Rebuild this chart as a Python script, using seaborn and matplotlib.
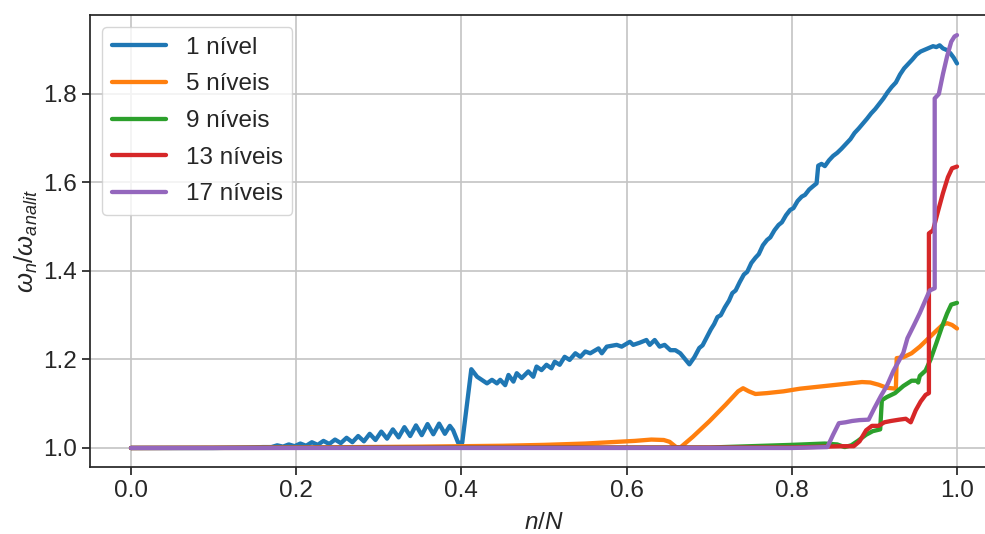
import numpy as np
import pandas as pd
import matplotlib
matplotlib.use("Agg")
import matplotlib.pyplot as plt
import seaborn as sns

# Normalised frequency omega_n / omega_analit against relative mode index n/N

x_1 = [0.000, 0.100, 0.140, 0.160,
       0.170, 0.177, 0.184, 0.191, 0.198, 0.205, 0.212, 0.219, 0.226, 0.233,
       0.240, 0.247, 0.254, 0.261, 0.268, 0.275, 0.282, 0.289, 0.296, 0.303,
       0.310, 0.317, 0.324, 0.331, 0.338, 0.345, 0.352, 0.359, 0.366, 0.373,
       0.380, 0.386, 0.390, 0.396, 0.401,
       0.412, 0.419, 0.431, 0.437, 0.443, 0.447, 0.453, 0.457, 0.463, 0.467,
       0.473, 0.481, 0.487, 0.491, 0.497, 0.503, 0.509, 0.513, 0.519, 0.525,
       0.531, 0.538, 0.544, 0.550, 0.556, 0.566, 0.570, 0.576, 0.588, 0.594,
       0.604, 0.608, 0.616, 0.624, 0.628, 0.634, 0.640, 0.646, 0.653, 0.659,
       0.665, 0.676,
       0.682, 0.688, 0.692, 0.697, 0.702, 0.706, 0.710, 0.714, 0.719, 0.724,
       0.728, 0.732, 0.737, 0.742, 0.746, 0.751, 0.756, 0.760, 0.765, 0.770,
       0.774, 0.779, 0.784, 0.788, 0.793, 0.798, 0.802, 0.807, 0.812, 0.816,
       0.821, 0.826, 0.830, 0.832, 0.836, 0.840, 0.845, 0.850, 0.855, 0.860,
       0.866, 0.871, 0.876, 0.881, 0.886, 0.891, 0.896, 0.901, 0.906, 0.911,
       0.916, 0.921, 0.926, 0.931, 0.936, 0.941, 0.946, 0.951, 0.956, 0.961,
       0.966, 0.971, 0.975, 0.979, 0.983, 0.988, 0.992, 0.996, 1.000]
y_1 = [1.000, 1.000, 1.001, 1.002,
       1.002, 1.006, 1.003, 1.008, 1.004, 1.010, 1.005, 1.013, 1.007, 1.016,
       1.009, 1.019, 1.011, 1.023, 1.013, 1.027, 1.015, 1.032, 1.018, 1.037,
       1.021, 1.042, 1.024, 1.047, 1.027, 1.051, 1.029, 1.054, 1.031, 1.055,
       1.032, 1.050, 1.040, 1.012, 1.012,
       1.178, 1.161, 1.146, 1.154, 1.146, 1.154, 1.142, 1.165, 1.150, 1.169,
       1.158, 1.173, 1.161, 1.184, 1.176, 1.188, 1.180, 1.195, 1.188, 1.206,
       1.199, 1.214, 1.206, 1.218, 1.214, 1.225, 1.214, 1.229, 1.233, 1.229,
       1.240, 1.233, 1.238, 1.244, 1.233, 1.244, 1.229, 1.233, 1.221, 1.221,
       1.214, 1.189,
       1.205, 1.226, 1.232, 1.250, 1.268, 1.280, 1.296, 1.300, 1.318, 1.333,
       1.350, 1.356, 1.375, 1.392, 1.398, 1.418, 1.430, 1.438, 1.458, 1.470,
       1.476, 1.492, 1.504, 1.510, 1.526, 1.538, 1.542, 1.558, 1.568, 1.572,
       1.584, 1.592, 1.598, 1.638, 1.642, 1.637, 1.650, 1.660, 1.667, 1.676,
       1.688, 1.698, 1.712, 1.722, 1.733, 1.744, 1.756, 1.766, 1.778, 1.790,
       1.804, 1.816, 1.826, 1.844, 1.858, 1.868, 1.878, 1.889, 1.896, 1.900,
       1.904, 1.908, 1.906, 1.910, 1.903, 1.899, 1.892, 1.882, 1.869]

x_5 = [0.000, 0.200, 0.350, 0.400, 0.450, 0.500, 0.550, 0.580, 0.610, 0.630,
       0.645, 0.652, 0.660, 0.665, 0.680, 0.700, 0.720, 0.735, 0.741, 0.748,
       0.756, 0.770, 0.790, 0.810, 0.830, 0.850, 0.870, 0.885, 0.895, 0.905,
       0.915, 0.926, 0.927, 0.935, 0.945, 0.955, 0.965, 0.975, 0.983, 0.988,
       0.994, 1.000]
y_5 = [1.000, 1.001, 1.003, 1.004, 1.005, 1.007, 1.010, 1.013, 1.016, 1.019,
       1.018, 1.014, 1.002, 1.001, 1.025, 1.060, 1.098, 1.128, 1.135, 1.128,
       1.122, 1.124, 1.128, 1.134, 1.138, 1.142, 1.146, 1.149, 1.148, 1.143,
       1.136, 1.134, 1.203, 1.205, 1.214, 1.229, 1.247, 1.265, 1.279, 1.282,
       1.278, 1.270]

x_9 = [0.000, 0.700, 0.750, 0.800, 0.840, 0.855, 0.864, 0.872, 0.880, 0.890,
       0.898, 0.907, 0.909, 0.915, 0.925, 0.935, 0.945, 0.951, 0.953, 0.955,
       0.962, 0.968, 0.975, 0.982, 0.988, 0.993, 1.000]
y_9 = [1.000, 1.001, 1.004, 1.007, 1.010, 1.008, 1.002, 1.006, 1.016, 1.030,
       1.038, 1.042, 1.108, 1.115, 1.124, 1.140, 1.152, 1.152, 1.148, 1.163,
       1.175, 1.200, 1.237, 1.275, 1.304, 1.324, 1.328]

x_13 = [0.000, 0.800, 0.840, 0.860, 0.875, 0.882, 0.890, 0.897, 0.905, 0.912,
        0.920, 0.930, 0.938, 0.944, 0.950, 0.956, 0.962, 0.966, 0.966, 0.971,
        0.977, 0.983, 0.989, 0.994, 1.000]
y_13 = [1.000, 1.001, 1.003, 1.004, 1.004, 1.015, 1.040, 1.050, 1.050, 1.058,
        1.061, 1.064, 1.066, 1.058, 1.085, 1.105, 1.120, 1.124, 1.485, 1.492,
        1.535, 1.576, 1.612, 1.632, 1.636]

x_17 = [0.000, 0.800, 0.843, 0.850, 0.857, 0.865, 0.873, 0.882, 0.893, 0.900,
        0.908, 0.915, 0.923, 0.930, 0.935, 0.940, 0.948, 0.955, 0.962, 0.967,
        0.973, 0.973, 0.978, 0.983, 0.988, 0.993, 0.997, 1.000]
y_17 = [1.000, 1.000, 1.002, 1.030, 1.056, 1.058, 1.061, 1.063, 1.064, 1.090,
        1.118, 1.140, 1.174, 1.198, 1.215, 1.248, 1.278, 1.305, 1.335, 1.356,
        1.361, 1.790, 1.800, 1.845, 1.885, 1.918, 1.930, 1.933]

series_names = ["1 nível", "5 níveis", "9 níveis", "13 níveis", "17 níveis"]
series_x = [x_1, x_5, x_9, x_13, x_17]
series_y = [y_1, y_5, y_9, y_13, y_17]

frames = []
for name, xs, ys in zip(series_names, series_x, series_y):
    frames.append(pd.DataFrame({"n/N": xs, "omega": ys, "serie": name}))
df = pd.concat(frames, ignore_index=True)

sns.set_theme(style="ticks", rc={
    "axes.grid": True,
    "grid.color": "#c4c4c4",
    "grid.linewidth": 1.2,
    "axes.edgecolor": "#262626",
    "axes.linewidth": 1.25,
    "xtick.major.size": 6,
    "ytick.major.size": 6,
})
plt.rcParams["font.family"] = ["Liberation Sans", "DejaVu Sans"]
plt.rcParams["mathtext.fontset"] = "custom"
plt.rcParams["mathtext.rm"] = "Liberation Sans"
plt.rcParams["mathtext.it"] = "Liberation Sans:italic"

W, H = 985, 534
FS = 17.5
LW = 3.1
fig = plt.figure(figsize=(W / 100, H / 100), dpi=100)
ax = fig.add_axes([89.7 / W, (H - 467) / H, (998.3 - 89.7) / W, (467 - 15) / H])

sns.lineplot(data=df, x="n/N", y="omega", hue="serie", hue_order=series_names,
             palette="tab10", estimator=None, units="serie", sort=False,
             linewidth=LW, ax=ax)

ax.set_xlim(-0.05, 1.05)
ax.set_ylim(0.957, 1.9785)
ax.set_xticks([0.0, 0.2, 0.4, 0.6, 0.8, 1.0])
ax.set_yticks([1.0, 1.2, 1.4, 1.6, 1.8])
ax.set_xticklabels(["0.0", "0.2", "0.4", "0.6", "0.8", "1.0"])
ax.set_yticklabels(["1.0", "1.2", "1.4", "1.6", "1.8"])
ax.tick_params(labelsize=FS, colors="#262626")
ax.set_xlabel("$n/N$", fontsize=FS, color="#262626", labelpad=7)
ax.set_ylabel(r"$\omega_n/\omega_{analit}$", fontsize=18.5, color="#262626",
              labelpad=2)

leg = ax.legend(loc="upper left", fontsize=FS, frameon=True,
                borderaxespad=0.5, handlelength=2.25, labelspacing=0.6)
for line in leg.get_lines():
    line.set_linewidth(LW)

fig.savefig("out.png", dpi=100)
